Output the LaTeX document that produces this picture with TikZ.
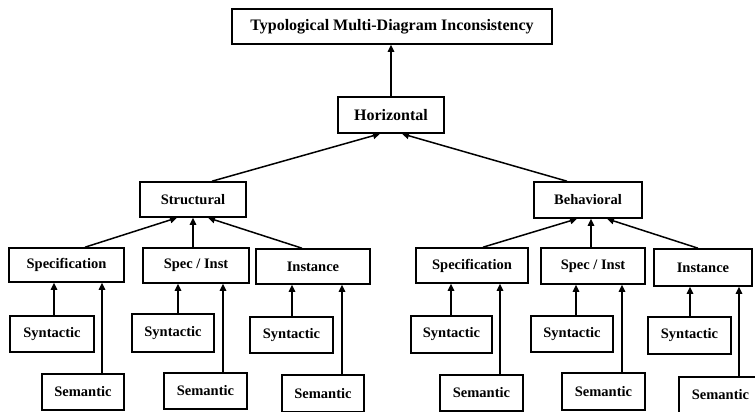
\documentclass[tikz,border=0pt]{standalone}
\usepackage{fontspec}
\setmainfont{Liberation Serif}
\usetikzlibrary{arrows.meta}
\begin{document}
\begin{tikzpicture}[x=1pt,y=-1pt,
  box/.style={draw, line width=1.6pt, inner sep=0pt, fill=white,
    font=\bfseries\fontsize{14.5}{16}\selectfont},
  bigbox/.style={box, font=\bfseries\fontsize{16}{18}\selectfont},
  arr/.style={line width=1.5pt, -{Triangle[length=7pt,width=6.5pt]}}]
\useasboundingbox (0,0) rectangle (755,412);
\clip (0,0) rectangle (755,412);
% top levels
\node[bigbox, minimum width=320pt, minimum height=35pt] (top) at (392,26.5) {Typological Multi-Diagram Inconsistency};
\node[bigbox, minimum width=106pt, minimum height=36pt] (hor) at (391,115) {Horizontal};
\node[box, minimum width=106pt, minimum height=35pt] (str) at (193,199.5) {Structural};
\node[box, minimum width=108pt, minimum height=36pt] (beh) at (588,200) {Behavioral};
% left third level
\node[box, minimum width=115pt, minimum height=34pt] (specL) at (66.5,265) {Specification};
\node[box, minimum width=106pt, minimum height=35pt] (siL) at (196,265.5) {Spec / Inst};
\node[box, minimum width=114pt, minimum height=35pt] (instL) at (313,266.5) {Instance};
% right third level
\node[box, minimum width=112pt, minimum height=35pt] (specR) at (472,265.5) {Specification};
\node[box, minimum width=104pt, minimum height=36pt] (siR) at (593,266) {Spec / Inst};
\node[box, minimum width=98pt, minimum height=37pt] (instR) at (703,267.5) {Instance};
% left leaves
\node[box, minimum width=84pt, minimum height=36pt] (syn1) at (52,334) {Syntactic};
\node[box, minimum width=82pt, minimum height=36pt] (sem1) at (83,392) {Semantic};
\node[box, minimum width=82pt, minimum height=38pt] (syn2) at (173,333) {Syntactic};
\node[box, minimum width=83pt, minimum height=36pt] (sem2) at (205.5,391) {Semantic};
\node[box, minimum width=83pt, minimum height=36pt] (syn3) at (291.5,335) {Syntactic};
\node[box, minimum width=82pt, minimum height=37pt] (sem3) at (323,393.5) {Semantic};
% right leaves
\node[box, minimum width=81pt, minimum height=37pt] (syn4) at (451.5,334.5) {Syntactic};
\node[box, minimum width=83pt, minimum height=36pt] (sem4) at (481.5,393) {Semantic};
\node[box, minimum width=82pt, minimum height=36pt] (syn5) at (572,334) {Syntactic};
\node[box, minimum width=83pt, minimum height=37pt] (sem5) at (603.5,391.5) {Semantic};
\node[box, minimum width=83pt, minimum height=37pt] (syn6) at (689.5,335.5) {Syntactic};
\node[box, minimum width=83pt, minimum height=36pt] (sem6) at (720.5,395) {Semantic};
% upper connectors
\draw[arr] (hor.north) -- (hor.north |- top.south);
\draw[arr] ([xshift=19pt]str.north) -- ([xshift=-11pt]hor.south);
\draw[arr] ([xshift=-21pt]beh.north) -- ([xshift=11pt]hor.south);
% third to second level
\draw[arr] ([xshift=18.5pt]specL.north) -- ([xshift=-16pt]str.south);
\draw[arr] ([xshift=-3pt]siL.north) -- ([xshift=0pt]str.south);
\draw[arr] ([xshift=-11pt]instL.north) -- ([xshift=15pt]str.south);
\draw[arr] ([xshift=11pt]specR.north) -- ([xshift=-11pt]beh.south);
\draw[arr] ([xshift=-2pt]siR.north) -- ([xshift=3pt]beh.south);
\draw[arr] ([xshift=-5pt]instR.north) -- ([xshift=19pt]beh.south);
% leaves to third level
\draw[arr] ([xshift=2pt]syn1.north) -- ([xshift=2pt]syn1.north |- specL.south);
\draw[arr] ([xshift=19pt]sem1.north) -- ([xshift=19pt]sem1.north |- specL.south);
\draw[arr] ([xshift=5pt]syn2.north) -- ([xshift=5pt]syn2.north |- siL.south);
\draw[arr] ([xshift=17.5pt]sem2.north) -- ([xshift=17.5pt]sem2.north |- siL.south);
\draw[arr] ([xshift=0.5pt]syn3.north) -- ([xshift=0.5pt]syn3.north |- instL.south);
\draw[arr] ([xshift=19pt]sem3.north) -- ([xshift=19pt]sem3.north |- instL.south);
\draw[arr] ([xshift=-0.5pt]syn4.north) -- ([xshift=-0.5pt]syn4.north |- specR.south);
\draw[arr] ([xshift=18.5pt]sem4.north) -- ([xshift=18.5pt]sem4.north |- specR.south);
\draw[arr] ([xshift=4pt]syn5.north) -- ([xshift=4pt]syn5.north |- siR.south);
\draw[arr] ([xshift=18.5pt]sem5.north) -- ([xshift=18.5pt]sem5.north |- siR.south);
\draw[arr] ([xshift=0.5pt]syn6.north) -- ([xshift=0.5pt]syn6.north |- instR.south);
\draw[arr] ([xshift=18.5pt]sem6.north) -- ([xshift=18.5pt]sem6.north |- instR.south);
\end{tikzpicture}
\end{document}
